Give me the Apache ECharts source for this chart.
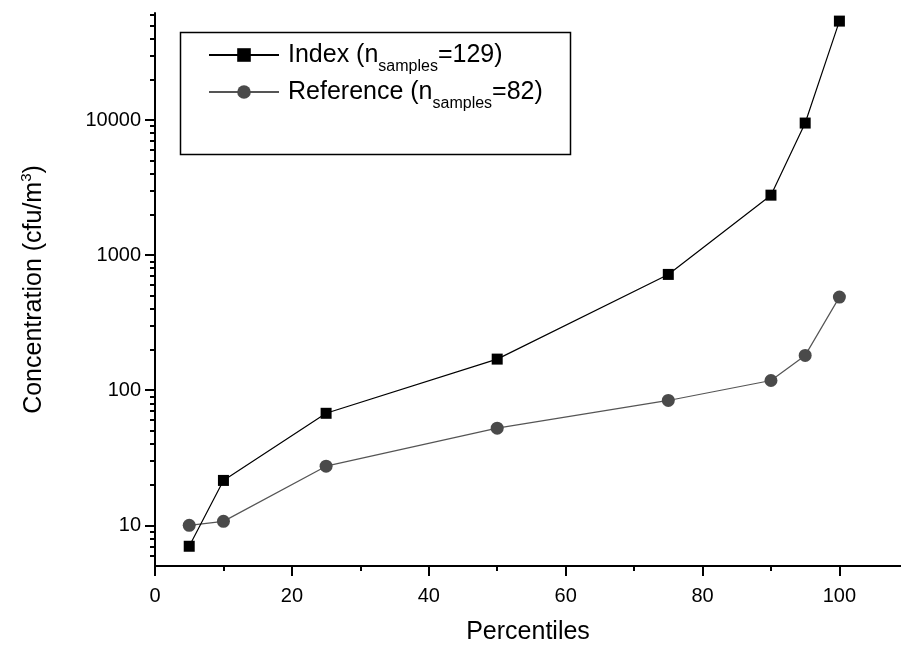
<!DOCTYPE html>
<html>
<head>
<meta charset="utf-8">
<title>Concentration percentiles</title>
<script src="https://cdn.jsdelivr.net/npm/echarts@6/dist/echarts.min.js"></script>
<style>
  html, body { margin: 0; padding: 0; background: #fff; }
  #chart { width: 901px; height: 648px; }
</style>
</head>
<body>
<div id="chart"></div>
<script>
// percentiles on x
var percentiles = [5, 10, 25, 50, 75, 90, 95, 100];
// cfu/m3
var indexValues = [7, 21.5, 67.5, 170, 720, 2780, 9500, 54000];
var referenceValues = [10, 10.7, 27.4, 52.4, 84, 118, 181, 489];

var yMajorTicks = [10, 100, 1000, 10000];
var yMinorTicks = [6, 7, 8, 9, 20, 30, 40, 50, 60, 70, 80, 90,
  200, 300, 400, 500, 600, 700, 800, 900,
  2000, 3000, 4000, 5000, 6000, 7000, 8000, 9000,
  20000, 30000, 40000, 50000, 60000];
var xMajorTicks = [0, 20, 40, 60, 80, 100];
var xMinorTicks = [10, 30, 50, 70, 90];

var FONT = "'Liberation Sans', Arial, sans-serif";

function pairs(xs, ys) {
  return xs.map(function (x, i) { return [x, ys[i]]; });
}

var chart = echarts.init(document.getElementById("chart"));

// legend text: h = first chunk (extra gap after the icon), s = subscript
var legendRich = {
  h: { fontSize: 25, fontFamily: FONT, color: "#000", lineHeight: 28, verticalAlign: "middle", padding: [0, 0, 0, 4] },
  t: { fontSize: 25, fontFamily: FONT, color: "#000", lineHeight: 28, verticalAlign: "middle" },
  s: { fontSize: 16, fontFamily: FONT, color: "#000", lineHeight: 16, verticalAlign: "middle", padding: [24, 0, 0, 0] }
};

var option = {
  animation: false,
  backgroundColor: "#fff",
  grid: { left: 155, right: 0, top: 13, bottom: 82, containLabel: false, outerBoundsMode: "none" },
  legend: {
    orient: "vertical",
    left: 208,
    top: 35,
    itemWidth: 70,
    itemHeight: 17,
    itemGap: -3,
    padding: 0,
    textStyle: { rich: legendRich },
    formatter: function (name) {
      if (name === "Index") return "{h|Index (n}{s|samples}{t|=129)}";
      return "{h|Reference (n}{s|samples}{t|=82)}";
    },
    data: ["Index", "Reference"]
  },
  graphic: [{
    type: "rect",
    left: 178,
    top: 30,
    shape: { width: 390, height: 122 },
    style: { fill: "none", stroke: "#000", lineWidth: 1.5 },
    z: 10
  }],
  xAxis: [{
    type: "value",
    min: 0,
    max: 109,
    name: "Percentiles",
    nameLocation: "middle",
    nameGap: 54,
    nameTextStyle: { fontSize: 25, fontFamily: FONT, color: "#000" },
    axisLine: { show: true, onZero: false, lineStyle: { color: "#000", width: 2 } },
    axisTick: { show: true, length: 10, lineStyle: { color: "#000", width: 2 }, customValues: xMajorTicks },
    axisLabel: { fontSize: 20, fontFamily: FONT, color: "#000", margin: 20, customValues: xMajorTicks },
    splitLine: { show: false }
  }, {
    type: "value",
    min: 0,
    max: 109,
    position: "bottom",
    axisLine: { show: false },
    axisTick: { show: true, length: 5, lineStyle: { color: "#000", width: 2 }, customValues: xMinorTicks },
    axisLabel: { show: false },
    splitLine: { show: false }
  }],
  yAxis: [{
    type: "log",
    logBase: 10,
    min: 5,
    max: 62000,
    name: "{a|Concentration (cfu/m}{p|3}{a|)}",
    nameLocation: "middle",
    nameGap: 105,
    nameTextStyle: {
      rich: {
        a: { fontSize: 25, fontFamily: FONT, color: "#000", verticalAlign: "middle" },
        p: { fontSize: 15, fontFamily: FONT, color: "#000", verticalAlign: "middle", padding: [0, 0, 16, 0] }
      }
    },
    axisLine: { show: true, lineStyle: { color: "#000", width: 2 } },
    axisTick: { show: true, length: 10, lineStyle: { color: "#000", width: 2 }, customValues: yMajorTicks },
    axisLabel: {
      fontSize: 20, fontFamily: FONT, color: "#000", margin: 14, customValues: yMajorTicks,
      formatter: function (v) { return String(Math.round(v)); }
    },
    splitLine: { show: false }
  }, {
    type: "log",
    logBase: 10,
    min: 5,
    max: 62000,
    position: "left",
    axisLine: { show: false },
    axisTick: { show: true, length: 5, lineStyle: { color: "#000", width: 2 }, customValues: yMinorTicks },
    axisLabel: { show: false },
    splitLine: { show: false }
  }],
  series: [{
    name: "Index",
    type: "line",
    data: pairs(percentiles, indexValues),
    symbol: "rect",
    symbolSize: 11,
    itemStyle: { color: "#000" },
    lineStyle: { color: "#000", width: 1.2 },
    z: 3
  }, {
    name: "Reference",
    type: "line",
    data: pairs(percentiles, referenceValues),
    symbol: "circle",
    symbolSize: 13,
    itemStyle: { color: "#4a4a4a" },
    lineStyle: { color: "#555", width: 1.2 },
    z: 2
  }]
};

chart.setOption(option);
</script>
</body>
</html>
